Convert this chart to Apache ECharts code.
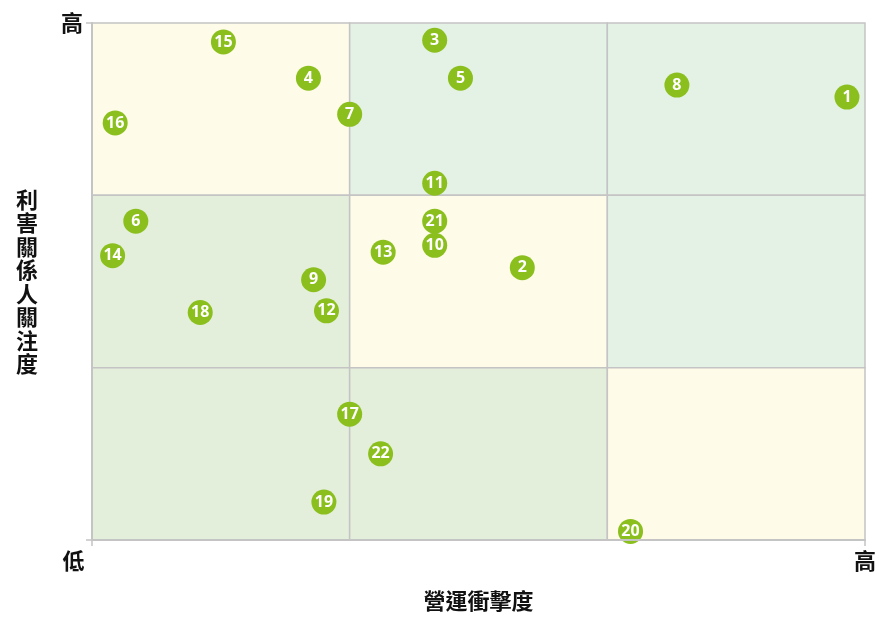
<!DOCTYPE html>
<html>
<head>
<meta charset="utf-8">
<script src="https://cdn.jsdelivr.net/npm/echarts@6/dist/echarts.min.js"></script>
<style>html,body{margin:0;padding:0;background:#fff}#c{width:879px;height:617px}</style>
</head>
<body>
<div id="c"></div>
<script>
// ---- data ----
const ids     = ['1','2','3','4','5','6','7','8','9','10','11','12','13','14','15','16','17','18','19','20','21','22'];
const impact  = [2.93,1.67,1.33,0.84,1.43,0.17,1.00,2.27,0.86,1.33,1.33,0.91,1.13,0.08,0.51,0.09,1.00,0.42,0.90,2.09,1.33,1.12];
const concern = [2.57,1.58,2.90,2.68,2.68,1.85,2.47,2.64,1.51,1.71,2.07,1.33,1.67,1.65,2.89,2.42,0.73,1.32,0.22,0.05,1.85,0.50];
const xTickLabels = ['低','高'];
const yTickLabels = ['','高'];
const xName = '營運衝擊度';
const yName = '利害關係人關注度';
// quadrant cells: [xFrom, xTo, yFrom, yTo, colourKey]
const cells = [
  [0,1,2,3,'Y'],[1,2,2,3,'G'],[2,3,2,3,'G'],
  [0,1,1,2,'L'],[1,2,1,2,'Y'],[2,3,1,2,'G'],
  [0,1,0,1,'L'],[1,2,0,1,'L'],[2,3,0,1,'Y']
];

// ---- styles ----
const fills = {Y:'#fefbe8', G:'#e4f2e5', L:'#e4efdb'};
const cjk = '"Noto Sans CJK TC","Noto Sans CJK SC",sans-serif';
const gridCol = '#c4c4c4';
const txt = '#111';

const chart = echarts.init(document.getElementById('c'));
chart.setOption({
  animation:false,
  backgroundColor:'#fff',
  grid:{left:92,right:13,top:23,bottom:74},
  xAxis:{
    type:'value',min:0,max:3,interval:3,z:5,
    axisLine:{show:true,lineStyle:{color:gridCol,width:2}},
    axisTick:{show:true,length:6,lineStyle:{color:gridCol,width:1.5}},
    splitLine:{show:false},
    axisLabel:{
      margin:10,fontSize:22,fontWeight:'bold',color:txt,fontFamily:cjk,
      formatter:v=> v===0 ? '{lo|'+xTickLabels[0]+'}' : xTickLabels[1],
      rich:{lo:{fontSize:22,fontWeight:'bold',fontFamily:cjk,color:txt,padding:[0,37,0,0]}}
    },
    name:xName,nameLocation:'middle',nameGap:50,
    nameTextStyle:{fontSize:22,fontWeight:'bold',color:txt,fontFamily:cjk}
  },
  yAxis:{
    type:'value',min:0,max:3,interval:3,z:5,
    axisLine:{show:true,lineStyle:{color:gridCol,width:2}},
    axisTick:{show:true,length:6,lineStyle:{color:gridCol,width:1.5}},
    splitLine:{show:false},
    axisLabel:{margin:9,fontSize:22,fontWeight:'bold',color:txt,fontFamily:cjk,
      formatter:v=> v===3 ? yTickLabels[1] : yTickLabels[0]},
    name:yName.split('').join('\n'),nameLocation:'middle',nameRotate:0,nameGap:54,
    nameTextStyle:{fontSize:22,fontWeight:'bold',color:txt,fontFamily:cjk,lineHeight:23.5}
  },
  graphic:[{type:'rect',z:4,silent:true,shape:{x:0,y:544,width:879,height:73},style:{fill:'#fff'}}],
  series:[{
    type:'scatter',
    data:impact.map((x,i)=>[x,concern[i],ids[i]]),
    symbol:'circle',symbolSize:25,
    itemStyle:{color:'#8abf1e',opacity:1},
    label:{show:true,position:'inside',formatter:p=>p.data[2],color:'#fff',
      fontFamily:'"Open Sans",sans-serif',fontWeight:'bold',fontSize:16},
    markArea:{
      silent:true,
      label:{show:false},
      data:cells.map(c=>[
        {xAxis:c[0],yAxis:c[2],itemStyle:{color:fills[c[4]],borderColor:gridCol,borderWidth:1.5}},
        {xAxis:c[1],yAxis:c[3]}
      ])
    }
  }]
});
</script>
</body>
</html>
